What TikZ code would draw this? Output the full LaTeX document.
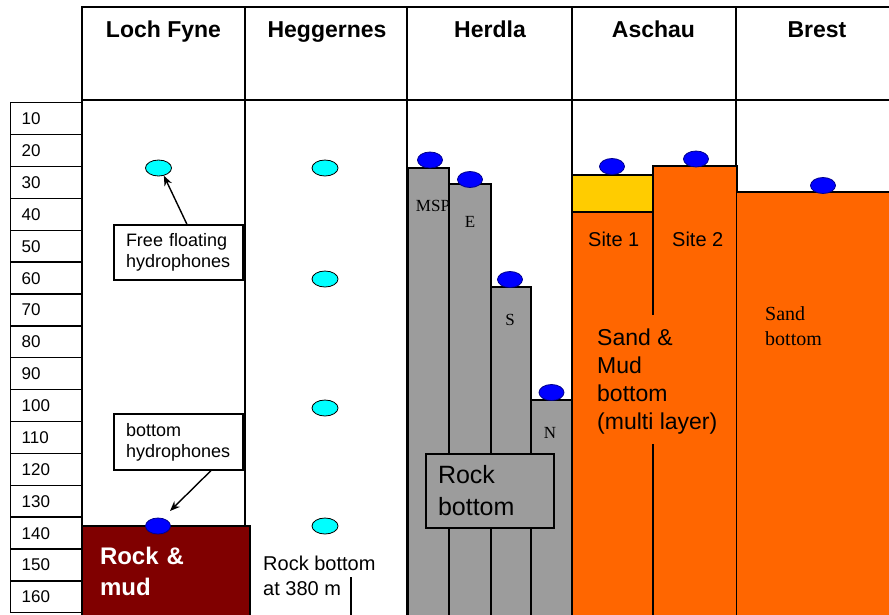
\documentclass[tikz,border=0pt]{standalone}
\usepackage{fontspec}
\setmainfont{Liberation Sans}
\newfontfamily\timesfont{Liberation Serif}
\usetikzlibrary{shapes.geometric,arrows.meta}
\definecolor{sandorange}{HTML}{FF6600}
\definecolor{siteyellow}{HTML}{FFCC00}
\definecolor{rockgray}{HTML}{9C9C9C}
\definecolor{mudred}{HTML}{800000}
\definecolor{floatcyan}{HTML}{00FFFF}
\definecolor{phoneblue}{HTML}{0000FF}
\newcommand\fsz[2]{\fontsize{#1}{#2}\selectfont}

\begin{document}
\begin{tikzpicture}[x=1pt,y=-1pt,
  grid/.style={line width=1.4pt},
  colhead/.style={font=\fsz{23}{26}\bfseries, anchor=base, inner sep=0},
  depthcell/.style={draw, line width=1.4pt, minimum width=72pt, minimum height=31.875pt,
    inner xsep=11pt, inner ysep=0pt, text width=50pt, align=left,
    text height=12pt, text depth=0pt, font=\fsz{17}{20}, anchor=north west},
  floatphone/.style={ellipse, draw, line width=0.8pt, fill=floatcyan,
    minimum width=26pt, minimum height=16pt, inner sep=0},
  bedphone/.style={ellipse, draw=blue!55!black, line width=0.8pt, fill=phoneblue,
    minimum width=25pt, minimum height=16pt, inner sep=0},
  callout/.style={draw, line width=1.2pt, fill=white, minimum width=129pt,
    inner xsep=12pt, text width=105pt, align=left, font=\fsz{18}{21}},
  bedlabel/.style={font=\timesfont\fsz{17}{20}, anchor=base, inner sep=0},
  % multi-line notes are placed by the baseline of their last line
  note/.style={anchor=base west, inner sep=0, align=left},
  pointer/.style={line width=1.4pt, -{Stealth[length=10pt,width=8pt]}}
]
\useasboundingbox (0,0) rectangle (889,614);

% depth scale
\foreach \d [count=\i from 0] in {10,20,...,160}
  \node[depthcell] (depth\d) at (10,{102+\i*31.875}) {\d};

% table frame and column dividers
\draw[grid] (82,526) -- (82,7) -- (890,7);
\draw[grid] (82,100) -- (890,100);
\draw[grid] (245,7) -- (245,526);
\draw[line width=2pt] (407,7) -- (407,616);
\draw[grid] (572,7) -- (572,175);
\draw[grid] (736,7) -- (736,166);

% column headings
\node[colhead] (hLoch) at (163.5,37) {Loch Fyne};
\node[colhead] (hHegg) at (327,37) {Heggernes};
\node[colhead] (hHerd) at (490,37) {Herdla};
\node[colhead] (hAsch) at (653.5,37) {Aschau};
\node[colhead] (hBrest) at (817,37) {Brest};

% Loch Fyne
\node[draw, line width=1.4pt, fill=mudred, minimum width=168pt, minimum height=90pt,
  inner xsep=18pt, text width=132pt, align=left, text=white,
  font=\fsz{24}{31}\bfseries] (rockmud) at (166,571) {Rock \&\\mud};
\node[floatphone] (lochfloat) at (158.5,168) {};
\node[bedphone] (lochbed) at (158,526) {};
\node[callout, minimum height=55pt] (floatnote) at (178.5,252.5) {Free floating\\hydrophones};
\node[callout, minimum height=56pt] (bednote) at (178.5,442) {bottom\\hydrophones};
\coordinate (bedtip) at (170,511);
\draw[pointer] ([xshift=8.5pt]floatnote.north) -- (lochfloat.-55);
\draw[pointer] ([xshift=32.5pt]bednote.south) -- (bedtip);

% Heggernes
\node[floatphone] (hegg1) at (325,168) {};
\node[floatphone] (hegg2) at (325,279) {};
\node[floatphone] (hegg3) at (325,408) {};
\node[floatphone] (hegg4) at (325,526) {};
\node[note, font=\fsz{20}{25}] (heggrock) at (263,595) {Rock bottom\\at 380 m};
\draw[grid] (351,577) -- (351,616);

% Herdla
\draw[grid, fill=rockgray] (408,168) rectangle (449,616);
\draw[grid, fill=rockgray] (449,184) rectangle (491,616);
\draw[grid, fill=rockgray] (491,287) rectangle (531,616);
\draw[grid, fill=rockgray] (531,400) rectangle (572,616);
\node[bedphone] (herdMSP) at (430,160) {};
\node[bedphone] (herdE) at (470,179.5) {};
\node[bedphone] (herdS) at (510,279.5) {};
\node[bedphone] (herdN) at (551.5,392.5) {};
\node[bedlabel] (lMSP) at (433,211) {MSP};
\node[bedlabel] (lE) at (470,227) {E};
\node[bedlabel] (lS) at (510,325) {S};
\node[bedlabel] (lN) at (550,438) {N};
\node[draw, line width=1.4pt, fill=rockgray, minimum width=128pt, minimum height=74pt,
  inner xsep=12pt, text width=104pt, align=left, font=\fsz{25}{32}] (herdrock) at (490,491) {Rock\\bottom};

% Aschau
\fill[siteyellow] (572,175) rectangle (653,212);
\fill[sandorange] (572,212) rectangle (653,616);
\fill[sandorange] (653,166) rectangle (737,616);
\draw[grid] (572,616) -- (572,175) -- (653,175);
\draw[grid] (572,212) -- (653,212);
\draw[grid] (653,315) -- (653,166) -- (737,166) -- (737,616);
\draw[grid] (653,444) -- (653,616);
\node[bedphone] (site1phone) at (612,166.5) {};
\node[bedphone] (site2phone) at (696,159) {};
\node[note, font=\fsz{20}{24}] (site1) at (588,246) {Site 1};
\node[note, font=\fsz{20}{24}] (site2) at (672,246) {Site 2};
\node[note, font=\fsz{23}{28}] (sandmud) at (597,429) {Sand \&\\Mud\\bottom\\(multi layer)};

% Brest
\fill[sandorange] (737,192) rectangle (890,616);
\draw[grid] (737,192) -- (890,192);
\node[bedphone] (brestphone) at (823,185.5) {};
\node[note, font=\timesfont\fsz{20}{25}] (sandbed) at (765,345) {Sand\\bottom};
\end{tikzpicture}
\end{document}
